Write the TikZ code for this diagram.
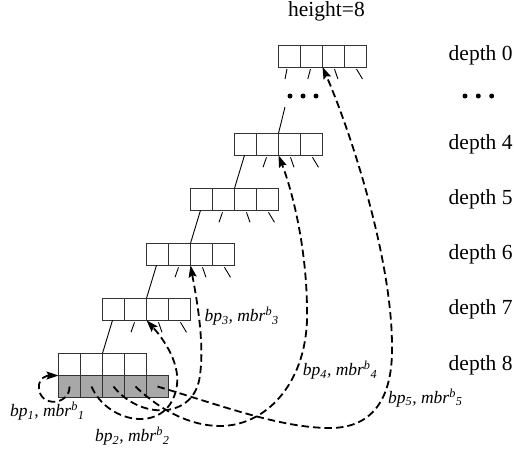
\documentclass[tikz,border=0pt]{standalone}
\usepackage{fontspec}
\setmainfont{Liberation Serif}
\usetikzlibrary{arrows.meta}
\definecolor{linec}{HTML}{333333}
\definecolor{grayfill}{HTML}{A8A8A8}
\newcommand\bplabel[1]{\textit{bp\textsubscript{#1}, mbr\textsuperscript{b}\textsubscript{#1}}}
\begin{document}
\begin{tikzpicture}[x=1pt,y=-1pt,
  cell/.style={draw=linec,line width=1pt,minimum width=22pt,minimum height=22pt,inner sep=0pt,outer sep=0pt},
  leaf/.style={cell,fill=grayfill},
  twig/.style={draw=black,line width=0.9pt},
  ptr/.style={draw=black,line width=1.8pt,dash pattern=on 7.5pt off 4pt,
    -{Stealth[length=12pt,width=8pt,inset=2pt]}},
  dot/.style={circle,fill=black,inner sep=0pt,minimum size=5pt},
  big/.style={font=\fontsize{21.5}{24}\selectfont,inner sep=0pt},
  small/.style={font=\fontsize{17.5}{20}\selectfont,inner sep=0pt,anchor=base west}]
\useasboundingbox (0,0) rectangle (514,450);

% index nodes: four entries per level
\foreach \d/\x/\y in {0/278.5/45, 4/234.5/133.3, 5/190.5/188.3, 6/146.5/243.3, 7/102.5/298.3, 8/58.5/353.3}{
  \foreach \j in {1,...,4}
    \node[cell] (n\d\j) at ({\x+22*\j-11},{\y+11}) {};
}
% leaf entries (grey row)
\foreach \j in {1,...,5}
  \node[leaf] (g\j) at ({58.5+22*\j-11},386.5) {};

% short child pointers below the root
\draw[twig] ([xshift=-2.5pt,yshift=-2pt]n01.south) -- ++(-2,10);
\draw[twig] ([xshift=-1pt,yshift=-2pt]n02.south) -- ++(-2.7,10);
\draw[twig] ([xshift=1pt,yshift=-2pt]n03.south) -- ++(3.4,10);
\draw[twig] ([xshift=1pt,yshift=-2pt]n04.south) -- ++(6,10);

% elided levels
\node[dot] (e1) at (290,96) {};
\node[dot] (e2) at (303,96) {};
\node[dot] (e3) at (316,96) {};
\coordinate (top4) at (285,107);
\draw[twig] (top4) -- (n42.north east);

% child pointers of the inner levels
\foreach \d/\c in {4/5, 5/6, 6/7, 7/8}{
  \draw[twig] ([xshift=-1pt]n\d1.south) -- (n\c2.north east);
  \draw[twig] ([xshift=-1pt,yshift=-2pt]n\d2.south) -- ++(-3.5,10);
  \draw[twig] ([xshift=1pt,yshift=-2pt]n\d3.south) -- ++(3.5,10);
  \draw[twig] ([xshift=1pt,yshift=-2pt]n\d4.south) -- ++(6,10);
}

% back pointers from the leaf entries
\draw[ptr] (g1.center) .. controls (70,405) and (40,408) .. (39,388)
  .. controls (38,377) and (48,375.5) .. (g1.north west);
\draw[ptr] (g2.center) .. controls (108,425) and (170,435) .. (177,385)
  .. controls (180,360) and (160,335) .. (n72.south east);
\draw[ptr] (g3.center) .. controls (140,420) and (195,420) .. (200,375)
  .. controls (205,340) and (195,290) .. (n62.south east);
\draw[ptr] (g4.center) .. controls (160,410) and (190,426) .. (220,426)
  .. controls (265,426) and (305,385) .. (307,320)
  .. controls (308,250) and (292,190) .. (n42.south east);
\draw[ptr] (g5.center) .. controls (220,405) and (280,428) .. (330,428)
  .. controls (375,428) and (392,395) .. (392,350)
  .. controls (393,260) and (350,130) .. (n02.south east);

% labels
\node[big,anchor=base] (ht) at (326.5,16.7) {height=8};
\node[big,anchor=west] (l0) at (448.5,55.7) {depth 0};
\node[dot] (r1) at (465,96) {};
\node[dot] (r2) at (478.3,96) {};
\node[dot] (r3) at (491.7,96) {};
\node[big,anchor=west] (l4) at (448.5,144.3) {depth 4};
\node[big,anchor=west] (l5) at (448.5,199.5) {depth 5};
\node[big,anchor=west] (l6) at (448.5,254.7) {depth 6};
\node[big,anchor=west] (l7) at (448.5,309.8) {depth 7};
\node[big,anchor=west] (l8) at (448.5,365) {depth 8};

\node[small] (b1) at (10,416.7) {\bplabel{1}};
\node[small] (b2) at (95,441.7) {\bplabel{2}};
\node[small] (b3) at (204.3,321.7) {\bplabel{3}};
\node[small] (b4) at (302.7,375.5) {\bplabel{4}};
\node[small] (b5) at (388,403.3) {\bplabel{5}};
\end{tikzpicture}
\end{document}
